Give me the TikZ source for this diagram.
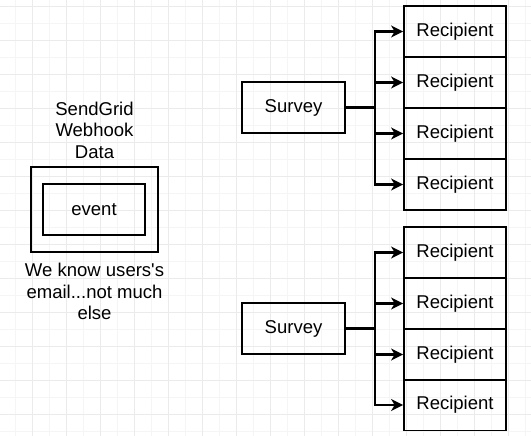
\documentclass[tikz,border=0pt]{standalone}
\usepackage{fontspec}
\setmainfont{Liberation Sans}
\usetikzlibrary{arrows.meta}
\begin{document}
\begin{tikzpicture}[x=1bp,y=-1bp,
  box/.style={draw=black,line width=1.8bp,rectangle,minimum width=102bp,minimum height=51bp,inner sep=0pt,font=\fontsize{18.6}{21.5}\selectfont},
  lbl/.style={align=center,inner sep=0pt,font=\fontsize{18.6}{21.7}\selectfont},
  arr/.style={line width=2.6bp,-{Stealth[length=12bp,width=12bp,inset=3.5bp]}},
  minorgrid/.style={draw=black!4,line width=0.7bp},
  majorgrid/.style={draw=black!8,line width=0.7bp}]
\useasboundingbox (0,0) rectangle (531,436);
\fill[white] (0,0) rectangle (531,436);
% grid
\foreach \gx in {-2,15,...,531} {\draw[minorgrid] (\gx,0) -- (\gx,436);}
\foreach \gy in {-11,6,...,436} {\draw[minorgrid] (0,\gy) -- (531,\gy);}
\foreach \gx in {-2,32,...,531} {\draw[majorgrid] (\gx,0) -- (\gx,436);}
\foreach \gy in {6,40,...,436} {\draw[majorgrid] (0,\gy) -- (531,\gy);}
% left part
\node[draw=black,line width=1.8bp,minimum width=127bp,minimum height=85bp,inner sep=0pt] (outer) at (94.5,209.5) {};
\node[box] (event) at (94,209.5) {event};
\node[lbl] (title) at (94.5,130) {SendGrid\\Webhook\\Data};
\node[lbl] (note) at (94.5,291.5) {We know users\textquotesingle s\\email...not much\\else};
% top group
\node[box,minimum width=103bp] (s1) at (293.5,107.5) {Survey};
\node[box] (r11) at (455,31.5) {Recipient};
\node[box] (r12) at (455,82.5) {Recipient};
\node[box] (r13) at (455,133.5) {Recipient};
\node[box] (r14) at (455,184.5) {Recipient};
\coordinate (j1) at (375,107.5);
\foreach \r in {r11,r12,r13,r14} {\draw[arr] (s1.east) -- (j1) |- (\r.west);}
% bottom group
\node[box,minimum width=103bp] (s2) at (293.5,328.5) {Survey};
\node[box] (r21) at (455,252.5) {Recipient};
\node[box] (r22) at (455,303.5) {Recipient};
\node[box] (r23) at (455,354.5) {Recipient};
\node[box] (r24) at (455,405) {Recipient};
\coordinate (j2) at (375,328.5);
\foreach \r in {r21,r22,r23,r24} {\draw[arr] (s2.east) -- (j2) |- (\r.west);}
\end{tikzpicture}
\end{document}
